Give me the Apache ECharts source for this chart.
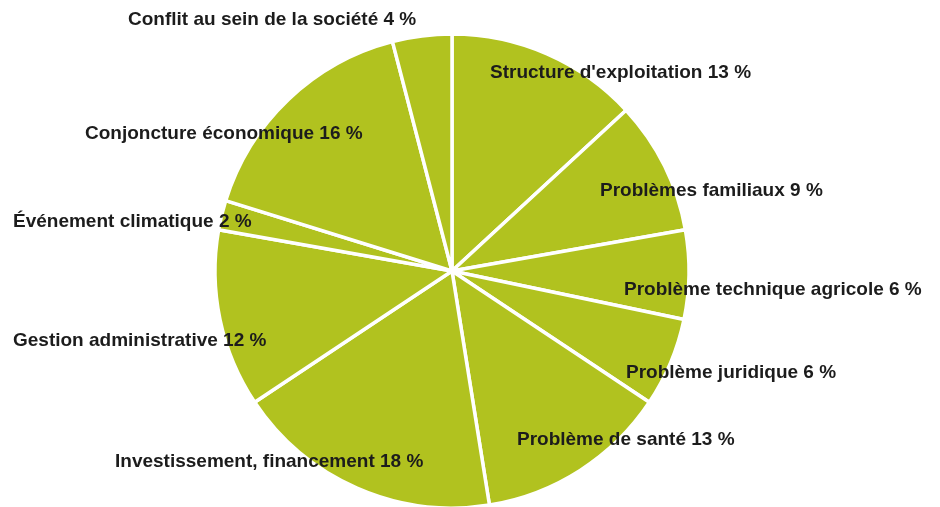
<!DOCTYPE html>
<html>
<head>
<meta charset="utf-8">
<script src="https://cdn.jsdelivr.net/npm/echarts@6/dist/echarts.min.js"></script>
<style>
  html, body { margin: 0; padding: 0; background: #fff; }
  #chart { width: 940px; height: 507px; }
</style>
</head>
<body>
<div id="chart"></div>
<script>
// clockwise from 12 o'clock
const categories = [
  "Structure d'exploitation",
  'Problèmes familiaux',
  'Problème technique agricole',
  'Problème juridique',
  'Problème de santé',
  'Investissement, financement',
  'Gestion administrative',
  'Événement climatique',
  'Conjoncture économique',
  'Conflit au sein de la société'
]
const shares = [13, 9, 6, 6, 13, 18, 12, 2, 16, 4]

// label anchor (left edge, vertical middle) for each slice
const labelAnchors = [
  [490, 73], [600, 191], [624, 290], [626, 373], [517, 440],
  [115, 462], [13, 341], [13, 222], [85, 134], [128, 20]
]

const chart = echarts.init(document.getElementById('chart'))

chart.setOption({
  animation: false,
  series: [
    {
      type: 'pie',
      center: [452, 271],
      radius: [0, 237],
      startAngle: 90,
      clockwise: true,
      avoidLabelOverlap: false,
      data: categories.map((name, i) => ({ name, value: shares[i] })),
      itemStyle: {
        color: '#b1c21f',
        borderColor: '#ffffff',
        borderWidth: 3.5
      },
      label: {
        show: true,
        position: 'inside',
        formatter: p => `${p.name} ${p.value} %`,
        fontFamily: 'Liberation Sans',
        fontWeight: 'bold',
        fontSize: 19,
        color: '#1c1c1c'
      },
      labelLine: { show: false },
      labelLayout: params => ({
        x: labelAnchors[params.dataIndex][0],
        y: labelAnchors[params.dataIndex][1],
        align: 'left',
        verticalAlign: 'middle'
      }),
      emphasis: { disabled: true }
    }
  ]
})
</script>
</body>
</html>
